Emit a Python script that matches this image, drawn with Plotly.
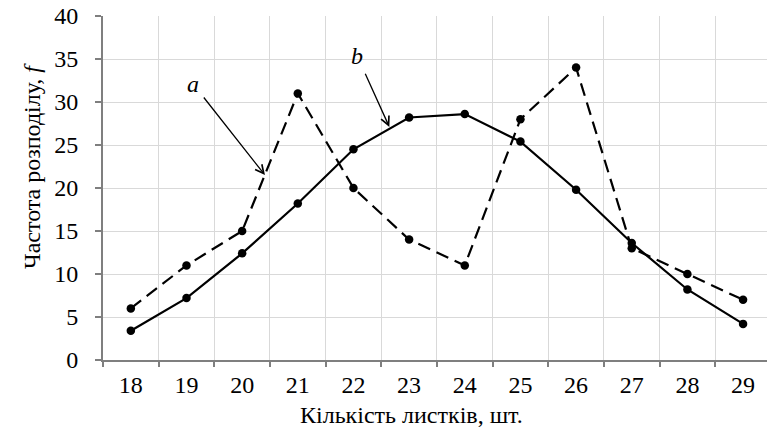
import plotly.graph_objects as go

# Number of leaves per plant (categories on the x axis)
leaves = ["18", "19", "20", "21", "22", "23", "24", "25", "26", "27", "28", "29"]
# Distribution frequency, curve a (dashed) and curve b (solid)
freq_a = [6, 11, 15, 31, 20, 14, 11, 28, 34, 13, 10, 7]
freq_b = [3.4, 7.2, 12.4, 18.2, 24.5, 28.2, 28.6, 25.4, 19.8, 13.6, 8.2, 4.2]

FONT = "'Liberation Serif', 'Times New Roman', serif"
FS = 24
GRID = "#d9d9d9"
AXIS = "#7f7f7f"

fig = go.Figure()
fig.add_trace(go.Scatter(
    x=leaves, y=freq_a, mode="lines+markers",
    line=dict(color="black", width=2.2, dash="13px,7px"),
    marker=dict(color="black", size=8.5),
    showlegend=False,
))
fig.add_trace(go.Scatter(
    x=leaves, y=freq_b, mode="lines+markers",
    line=dict(color="black", width=2.2),
    marker=dict(color="black", size=8.5),
    showlegend=False,
))

# Curve labels with pointer arrows (x given as category index)
arrow = dict(showarrow=True, arrowhead=5, arrowsize=1.3, arrowwidth=1.3,
             arrowcolor="black", axref="x", ayref="y", xref="x", yref="y")
fig.add_annotation(x=2.41, y=21.5, ax=1.29, ay=30.7, text="", **arrow)
fig.add_annotation(x=4.645, y=27.1, ax=4.2, ay=33.45, text="", **arrow)
fig.add_annotation(x=1.12, y=32.1, text="<i>a</i>", showarrow=False,
                   font=dict(size=FS, family=FONT, color="black"))
fig.add_annotation(x=4.07, y=35.3, text="<i>b</i>", showarrow=False,
                   font=dict(size=FS, family=FONT, color="black"))

# Axis titles
fig.add_annotation(xref="paper", yref="paper", x=-0.107, y=0.564,
                   text="Частота розподілу, <i>f</i>", textangle=-90,
                   showarrow=False, xanchor="center", yanchor="middle",
                   font=dict(size=FS, family=FONT, color="black"))
fig.add_annotation(xref="paper", yref="paper", x=0.464, y=-0.16,
                   text="Кількість листків, шт.",
                   showarrow=False, xanchor="center", yanchor="middle",
                   font=dict(size=FS, family=FONT, color="black"))

fig.update_layout(
    width=767, height=427,
    margin=dict(l=103, r=0, t=16, b=67),
    paper_bgcolor="white", plot_bgcolor="white",
    font=dict(family=FONT, size=FS, color="black"),
    xaxis=dict(
        type="category", range=[-0.5, 11.43],
        tickson="boundaries", ticks="outside", ticklen=5, tickcolor=AXIS,
        tickwidth=1.5, ticklabelstandoff=2,
        showgrid=True, gridcolor=GRID, gridwidth=1.3,
        showline=True, linecolor=AXIS, linewidth=2,
        tickfont=dict(size=FS, family=FONT, color="black"),
    ),
    yaxis=dict(
        range=[0, 40], dtick=5, tick0=0,
        ticks="outside", ticklen=6, tickcolor=AXIS, tickwidth=1.5,
        showgrid=True, gridcolor=GRID, gridwidth=1.3,
        showline=True, linecolor=AXIS, linewidth=2,
        zeroline=False, ticklabelstandoff=12,
        tickfont=dict(size=FS, family=FONT, color="black"),
    ),
)

fig.write_html("out.html")
